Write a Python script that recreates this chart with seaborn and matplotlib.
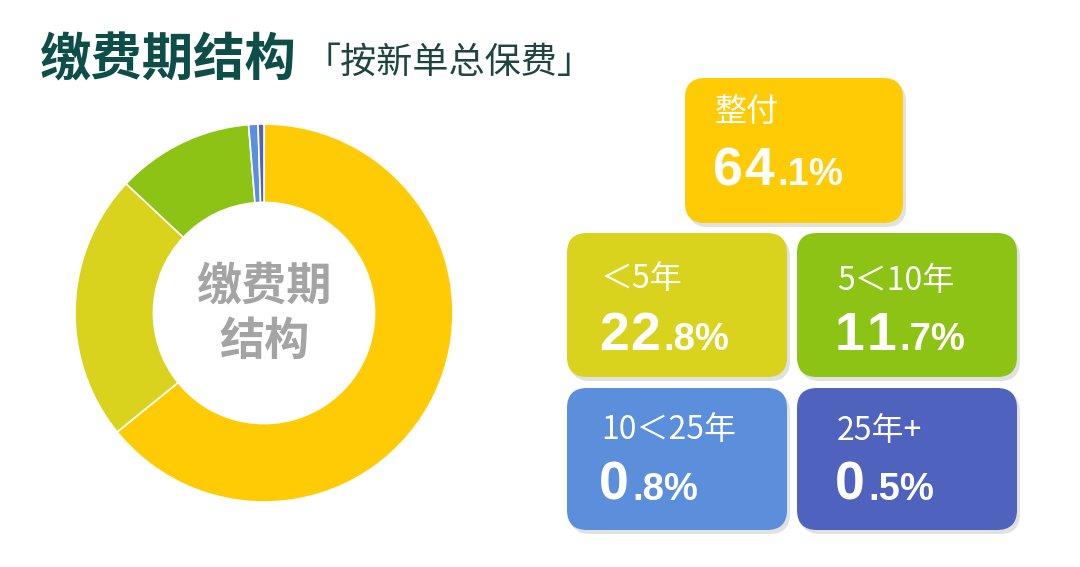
import matplotlib
matplotlib.use("Agg")
import matplotlib.pyplot as plt
import seaborn as sns
from matplotlib.patches import FancyBboxPatch

# data
categories = ["整付", "＜5年", "5＜10年", "10＜25年", "25年+"]
shares = [64.1, 22.8, 11.7, 0.8, 0.5]
colors = ["#FECB04", "#D9D31E", "#8CC315", "#5B8EDB", "#4F62BE"]

title = "缴费期结构"
subtitle = "「按新单总保费」"
center_label = "缴费期\n结构"

# layout, in pixels of the 1080x567 canvas (x0, y0, w, h)
boxes = [(685, 78, 218, 145), (567, 233, 220, 144), (797, 233, 220, 144),
         (567, 388, 220, 142), (797, 388, 220, 142)]
text_x = [715, 601, 837, 601, 837]
label_y = [112, 279, 281, 430, 431]
value_y = [185, 350, 350, 500, 500]

W, H = 1080, 567
sns.set_theme(style="white")
plt.rcParams["font.family"] = ["Noto Sans CJK SC", "DejaVu Sans"]

fig = plt.figure(figsize=(W / 100, H / 100), dpi=100)
fig.patch.set_facecolor("white")

# donut
cx, cy, r = 264, 313, 189
pax = fig.add_axes([(cx - r) / W, 1 - (cy + r) / H, 2 * r / W, 2 * r / H])
pax.pie(shares, colors=sns.color_palette(colors), startangle=90, counterclock=False,
        radius=1, wedgeprops=dict(width=0.415, edgecolor="white", linewidth=1.2))
pax.set_xlim(-1, 1)
pax.set_ylim(-1, 1)
pax.axis("off")

# overlay in pixel coordinates
ov = fig.add_axes([0, 0, 1, 1])
ov.set_xlim(0, W)
ov.set_ylim(H, 0)
ov.axis("off")

ov.text(40, 60, title, fontsize=37, fontweight="bold", color="#0D4F48",
        va="center", ha="left")
ov.text(305, 63, subtitle, fontsize=26, color="#1E4541", va="center", ha="left")

lines = center_label.split("\n")
ov.text(cx, 287, lines[0], fontsize=32.5, fontweight="bold", color="#A4A4A4",
        ha="center", va="center")
ov.text(cx, 342, lines[1], fontsize=32.5, fontweight="bold", color="#A4A4A4",
        ha="center", va="center")


def tracked(ax, x, y, s, size, track=1.2):
    # draw a string char by char with a little letter spacing
    prev = None
    for ch in s:
        kw = dict(fontsize=size, fontweight="bold", family="Liberation Sans",
                  color="white", ha="left", va="baseline")
        if prev is None:
            prev = ax.text(x, y, ch, **kw)
        else:
            prev = ax.annotate(ch, xy=(1, y), xycoords=(prev, ax.transData),
                               xytext=(track, 0), textcoords="offset points", **kw)
    return prev


for i, (cat, v, col) in enumerate(zip(categories, shares, colors)):
    x0, y0, w, h = boxes[i]
    shadow = FancyBboxPatch((x0 + 3, y0 + 4), w, h,
                            boxstyle="round,pad=0,rounding_size=20",
                            facecolor="#777777", edgecolor="none", alpha=0.22)
    ov.add_patch(shadow)
    box = FancyBboxPatch((x0, y0), w, h, boxstyle="round,pad=0,rounding_size=20",
                         facecolor=col, edgecolor="none")
    ov.add_patch(box)
    ov.text(text_x[i], label_y[i], cat, fontsize=23, color="white",
            ha="left", va="center")
    whole, frac = f"{v:.1f}".split(".")
    last = tracked(ov, text_x[i] - 2, value_y[i], whole, 38.5)
    ov.annotate("." + frac + "%", xy=(1, value_y[i]), xycoords=(last, ov.transData),
                xytext=(2.5, 0), textcoords="offset points",
                fontsize=27.5, fontweight="bold", family="Liberation Sans",
                color="white", ha="left", va="baseline")

fig.savefig("out.png", dpi=100, facecolor="white")
plt.close(fig)
